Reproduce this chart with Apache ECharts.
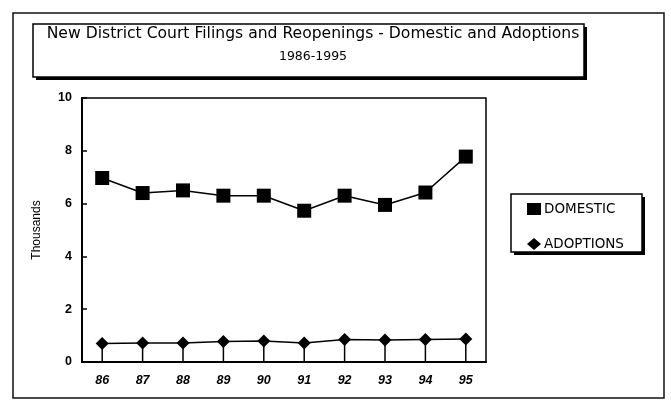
<!DOCTYPE html>
<html>
<head>
<meta charset="utf-8">
<script src="https://cdn.jsdelivr.net/npm/echarts@6/dist/echarts.min.js"></script>
<style>
  html, body { margin: 0; padding: 0; background: #fff; }
  #chart { width: 671px; height: 400px; }
</style>
</head>
<body>
<div id="chart"></div>
<script>
// Filings and reopenings, in thousands, by year
const years = ['86', '87', '88', '89', '90', '91', '92', '93', '94', '95'];
const domestic = [6.97, 6.4, 6.5, 6.3, 6.3, 5.73, 6.3, 5.95, 6.42, 7.78];
const adoptions = [0.7, 0.72, 0.72, 0.78, 0.8, 0.72, 0.85, 0.83, 0.85, 0.87];
const yTicks = [0, 2, 4, 6, 8, 10];

const titleText = 'New District Court Filings and Reopenings - Domestic and Adoptions';
const subTitleText = '1986-1995';

const FONT = '"Liberation Sans", Arial, sans-serif';
const WIDE = '"DejaVu Sans", sans-serif';

const chart = echarts.init(document.getElementById('chart'), null, { renderer: 'canvas' });

chart.setOption({
  backgroundColor: '#ffffff',
  animation: false,
  title: {
    text: titleText,
    subtext: subTitleText,
    left: 308,
    top: 21,
    textAlign: 'center',
    itemGap: 8,
    textStyle: { fontFamily: WIDE, fontSize: 15.6, fontWeight: 'normal', color: '#000' },
    subtextStyle: { fontFamily: WIDE, fontSize: 12.5, fontWeight: 'normal', color: '#000' }
  },
  graphic: [
    // outer frame
    { type: 'rect', shape: { x: 13, y: 13, width: 651, height: 385 },
      style: { fill: 'none', stroke: '#111', lineWidth: 1.5 }, z: -1 },
    // title box shadow + box
    { type: 'rect', shape: { x: 36, y: 27, width: 551, height: 53 },
      style: { fill: '#000' }, z: 0 },
    { type: 'rect', shape: { x: 33, y: 24, width: 551, height: 53 },
      style: { fill: '#fff', stroke: '#000', lineWidth: 1.5 }, z: 0 },
    // legend box shadow + box
    { type: 'rect', shape: { x: 514, y: 197, width: 131, height: 58 },
      style: { fill: '#000' }, z: 0 },
    { type: 'rect', shape: { x: 511, y: 194, width: 131, height: 58 },
      style: { fill: '#fff', stroke: '#000', lineWidth: 1.5 }, z: 0 }
  ],
  legend: {
    orient: 'vertical',
    left: 522,
    top: 197,
    itemWidth: 14,
    itemHeight: 12,
    itemGap: 21,
    z: 5,
    data: [
      { name: 'DOMESTIC', icon: 'rect' },
      { name: 'ADOPTIONS', icon: 'diamond' }
    ],
    textStyle: { fontFamily: WIDE, fontSize: 13.5, fontWeight: 'normal', color: '#000', padding: [0, 0, 0, -2] }
  },
  grid: {
    left: 82, top: 98, right: 185, bottom: 38,
    show: true, borderColor: '#000', borderWidth: 1.5, backgroundColor: 'transparent'
  },
  xAxis: {
    type: 'category',
    data: years,
    boundaryGap: true,
    axisLine: { lineStyle: { color: '#000', width: 2 } },
    axisTick: { show: false },
    axisLabel: { margin: 12, fontFamily: FONT, fontSize: 12.5, fontWeight: 'bold', fontStyle: 'italic', color: '#000' }
  },
  yAxis: {
    type: 'value',
    min: 0, max: 10, interval: 2,
    name: 'Thousands',
    nameLocation: 'middle',
    nameGap: 39,
    nameRotate: 90,
    nameTextStyle: { fontFamily: FONT, fontSize: 12, color: '#000' },
    splitLine: { show: false },
    axisLine: { show: true, lineStyle: { color: '#000', width: 2 } },
    axisTick: { show: true, inside: true, length: 5, lineStyle: { color: '#000', width: 1.5 } },
    axisLabel: {
      margin: 10, fontFamily: FONT, fontSize: 12.5, fontWeight: 'bold', color: '#000',
      formatter: v => (yTicks.indexOf(v) >= 0 ? String(v) : '')
    }
  },
  series: [
    {
      name: 'DOMESTIC',
      type: 'line',
      data: domestic,
      symbol: 'rect',
      symbolSize: 14,
      color: '#000',
      lineStyle: { color: '#000', width: 1.5 },
      itemStyle: { color: '#000' },
      z: 3
    },
    {
      name: 'ADOPTIONS',
      type: 'line',
      data: adoptions,
      symbol: 'diamond',
      symbolSize: 13,
      color: '#000',
      lineStyle: { color: '#000', width: 1.5 },
      itemStyle: { color: '#000' },
      z: 3
    },
    {
      // drop lines from each adoptions point down to the axis
      name: 'adoptionsDrop',
      type: 'bar',
      data: adoptions,
      barWidth: 1.5,
      itemStyle: { color: '#000' },
      z: 2
    }
  ]
});
</script>
</body>
</html>
